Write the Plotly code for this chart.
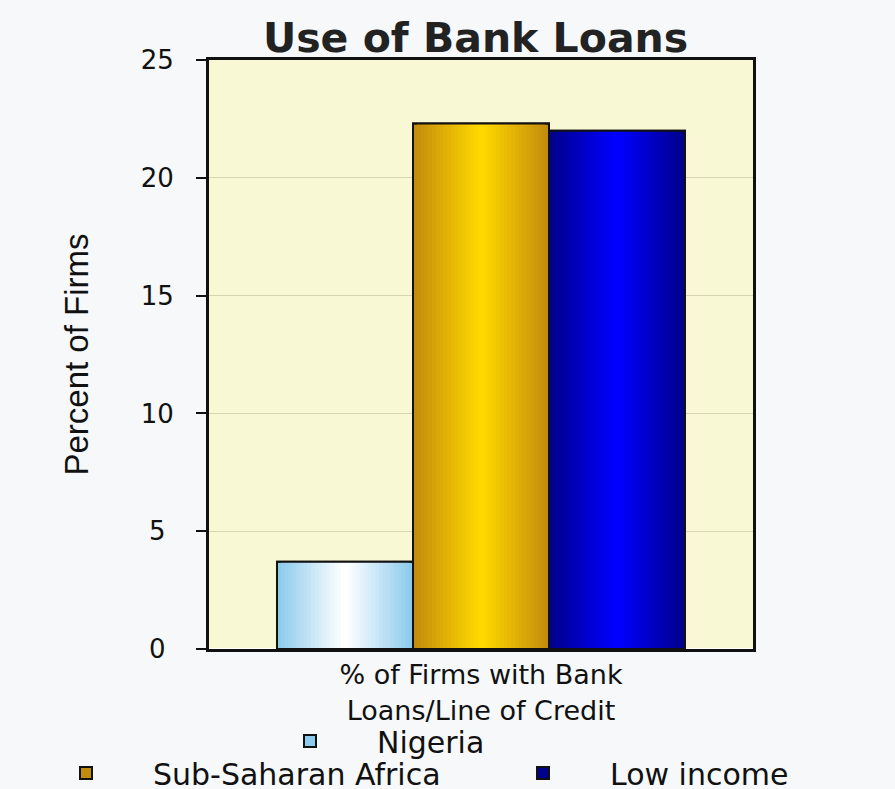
import plotly.graph_objects as go

# ---- data ----
category = "% of Firms with Bank<br>Loans/Line of Credit"
series_names = ["Nigeria", "Sub-Saharan Africa", "Low income"]
series_values = [3.7, 22.3, 22.0]
y_tick_values = [0, 5, 10, 15, 20, 25]
# single digits padded with a half-digit space so labels sit centred under the two-digit ones
y_tick_labels = ["0\u00a0", "5\u00a0", "10", "15", "20", "25"]

# edge colour -> centre colour of each bar's cylinder-like shading
edge_colors = [(140, 203, 236), (196, 140, 12), (0, 0, 140)]
center_colors = [(255, 255, 255), (255, 216, 0), (0, 0, 255)]
# each series gets its own legend box so the entries can be placed freely
legend_ids = ["legend", "legend2", "legend3"]

GROUP_WIDTH = 0.75
BAR_W = GROUP_WIDTH / len(series_values)
LAYERS = 18


def mix(c1, c2, t):
    return "rgb({},{},{})".format(*[round(a + (b - a) * t) for a, b in zip(c1, c2)])


fig = go.Figure()
for i, (name, val) in enumerate(zip(series_names, series_values)):
    base_off = -GROUP_WIDTH / 2 + i * BAR_W
    # shaded layers, outermost first
    for k in range(LAYERS):
        w = BAR_W * (1 - k / LAYERS)
        fig.add_trace(go.Bar(
            x=[category], y=[val], name=name,
            width=w, offset=base_off + (BAR_W - w) / 2,
            marker=dict(color=mix(edge_colors[i], center_colors[i], k / (LAYERS - 1)),
                        line=dict(color="#111111", width=2 if k == 0 else 0)),
            showlegend=(k == 0),
            legend=legend_ids[i],
            hoverinfo="skip" if k else None,
        ))
    # outline on top
    fig.add_trace(go.Bar(
        x=[category], y=[val], width=BAR_W, offset=base_off,
        marker=dict(color="rgba(0,0,0,0)", line=dict(color="#111111", width=2)),
        showlegend=False, hoverinfo="skip",
    ))

legend_font = dict(family="DejaVu Sans", size=30, color="#111111")


def legend_box(x_px, y_px):
    return dict(orientation="h", xref="container", yref="container",
                x=x_px / 895, xanchor="left", y=1 - y_px / 789, yanchor="middle",
                font=legend_font, bgcolor="rgba(0,0,0,0)", itemwidth=124)


fig.update_layout(
    width=895, height=789,
    margin=dict(l=209, r=142, t=60, b=140, autoexpand=False),
    paper_bgcolor="#f6f8fa",
    plot_bgcolor="#f9f8d4",
    barmode="overlay",
    title=dict(text="Use of Bank Loans", x=0.49, xref="paper", xanchor="center",
               y=1 - 38 / 789, yanchor="middle",
               font=dict(family="DejaVu Sans", size=41, color="#222222", weight="bold")),
    font=dict(family="DejaVu Sans", color="#111111"),
    xaxis=dict(
        showline=True, linecolor="#111111", linewidth=3, mirror=True,
        ticks="", tickfont=dict(family="DejaVu Sans", size=27, color="#111111"),
        showgrid=False, automargin=False,
    ),
    yaxis=dict(
        range=[0, 25], tickvals=y_tick_values, ticktext=y_tick_labels,
        ticks="outside", ticklen=10, tickwidth=2, tickcolor="#111111",
        showline=True, linecolor="#111111", linewidth=3, mirror=True,
        showgrid=True, gridcolor="#d9d5b0", gridwidth=1,
        tickfont=dict(family="DejaVu Sans", size=26, color="#111111"),
        ticklabelstandoff=17, automargin=False,
        title=dict(text="Percent of Firms", standoff=43,
                   font=dict(family="Liberation Sans", size=33, color="#111111")),
    ),
    legend=legend_box(243, 741),
    legend2=legend_box(19, 773),
    legend3=legend_box(476, 773),
)

fig.write_html("out.html")
